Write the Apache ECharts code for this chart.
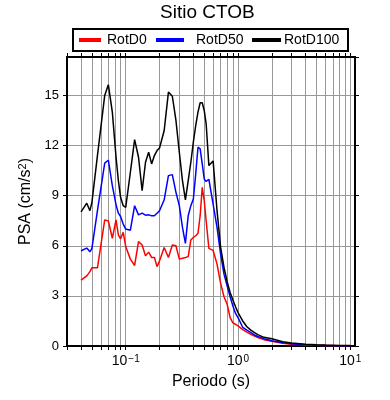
<!DOCTYPE html>
<html>
<head>
<meta charset="utf-8">
<script src="https://cdn.jsdelivr.net/npm/echarts@6/dist/echarts.min.js"></script>
<style>
html, body { margin: 0; padding: 0; background: #fff; }
#chart { width: 390px; height: 400px; }
</style>
</head>
<body>
<div id="chart"></div>
<script>
// periodos (s) y PSA (cm/s2)
var periodo = [0.04, 0.045, 0.048, 0.05, 0.056, 0.065, 0.07, 0.076, 0.082, 0.086,
    0.09, 0.095, 0.1, 0.11, 0.12, 0.13, 0.14, 0.15, 0.16, 0.17,
    0.18, 0.19, 0.2, 0.22, 0.24, 0.26, 0.28, 0.3, 0.32, 0.34,
    0.36, 0.38, 0.4, 0.42, 0.44, 0.46, 0.48, 0.5, 0.52, 0.55,
    0.6, 0.65, 0.7, 0.75, 0.8, 0.85, 0.9, 0.95, 1.0, 1.1,
    1.2, 1.3, 1.4, 1.5, 1.7, 2.0, 2.5, 3.0, 4.0, 5.0,
    6.0, 8.0, 10.0];
var rotD0 = [3.94, 4.2, 4.45, 4.68, 4.68, 7.55, 7.48, 6.45, 7.55, 6.65,
    6.42, 6.8, 5.95, 5.2, 4.82, 6.25, 6.05, 5.4, 5.62, 5.3,
    5.3, 4.75, 5.1, 5.9, 5.3, 6.05, 6.0, 5.2, 5.25, 5.3,
    5.35, 6.35, 6.5, 6.6, 6.75, 7.8, 9.5, 8.7, 7.5, 5.84,
    5.72, 4.9, 3.75, 2.95, 2.5, 1.7, 1.38, 1.3, 1.2, 0.98,
    0.83, 0.7, 0.6, 0.5, 0.38, 0.28, 0.16, 0.1, 0.06, 0.04,
    0.03, 0.018, 0.012];
var rotD50 = [5.7, 5.86, 5.64, 5.84, 8.1, 10.95, 11.12, 9.6, 8.45, 7.95,
    7.75, 7.3, 7.0, 6.93, 8.4, 7.85, 7.95, 7.83, 7.85, 7.8,
    7.8, 7.95, 8.1, 8.75, 10.2, 10.26, 9.2, 8.4, 7.1, 6.14,
    7.8, 8.4, 8.8, 10.3, 11.9, 11.8, 10.9, 10.0, 9.85, 9.98,
    8.5, 7.1, 5.5, 4.3, 3.6, 2.95, 2.4, 1.95, 1.7, 1.12,
    0.95, 0.8, 0.66, 0.57, 0.44, 0.32, 0.2, 0.13, 0.08, 0.05,
    0.035, 0.022, 0.015];
var rotD100 = [8.03, 8.55, 8.1, 8.6, 11.4, 15.0, 15.64, 14.0, 11.3, 9.9,
    8.9, 8.4, 8.3, 10.4, 12.35, 11.3, 9.3, 11.0, 11.6, 10.9,
    11.4, 11.7, 11.85, 12.9, 15.2, 14.95, 13.5, 11.6, 9.9, 8.75,
    9.9, 11.0, 12.2, 13.2, 14.0, 14.56, 14.56, 14.1, 13.3, 10.8,
    11.08, 8.1, 5.9, 4.7, 3.85, 3.2, 2.75, 2.35, 2.0, 1.5,
    1.15, 0.95, 0.8, 0.68, 0.52, 0.43, 0.26, 0.18, 0.1, 0.07,
    0.055, 0.035, 0.025];
var etiquetasX = [0.1, 1, 10];
var exponenteX = { '0.1': '\u22121', '1': '0', '10': '1' };

// lineas de la grilla log: 1..9 x 10^n
var grillaX = [];
for (var e = -2; e <= 1; e++) {
    for (var k = 1; k <= 9; k++) {
        var v = +(k * Math.pow(10, e)).toPrecision(3);
        if (v >= 0.03 && v <= 11) grillaX.push(v);
    }
}

function pares(vals) {
    return periodo.map(function (t, i) { return [t, vals[i]]; });
}

var fuente = 'Liberation Sans';
var myChart = echarts.init(document.getElementById('chart'));

var ejeX = {
    type: 'log',
    logBase: 10,
    min: 0.03,
    max: 11,
    axisLine: { show: true, onZero: false, lineStyle: { color: '#000', width: 2 } },
    axisTick: { show: true, inside: false, length: 4, customValues: grillaX, lineStyle: { color: '#000', width: 1 } },
    splitLine: { show: true, lineStyle: { color: '#999', width: 1 } },
    axisLabel: {
        show: true,
        customValues: etiquetasX,
        margin: 8,
        color: '#000',
        formatter: function (v) {
            var ex = exponenteX[String(+v.toPrecision(3))];
            return ex === undefined ? '' : '{b|10}{s|' + ex + '}';
        },
        rich: {
            b: { fontFamily: fuente, fontSize: 14, lineHeight: 14, verticalAlign: 'bottom', color: '#000' },
            s: { fontFamily: fuente, fontSize: 10, lineHeight: 10, verticalAlign: 'top', color: '#000', padding: [0, 0, 0, 1] }
        }
    }
};

var option = {
    animation: false,
    backgroundColor: '#fff',
    title: {
        text: 'Sitio CTOB',
        left: 160,
        top: 3,
        padding: 0,
        textStyle: { fontFamily: fuente, fontSize: 19, fontWeight: 'normal', color: '#000' }
    },
    graphic: [{
        type: 'rect',
        shape: { x: 73, y: 29, width: 275, height: 22 },
        style: { fill: '#fff', stroke: '#000', lineWidth: 2 },
        z: 0
    }],
    legend: [
        { data: ['RotD0'], left: 79, top: 33, padding: 0, icon: 'rect', itemWidth: 22, itemHeight: 4, itemGap: 0,
          textStyle: { fontFamily: fuente, fontSize: 14, color: '#000', padding: [0, 0, 0, 1] } },
        { data: ['RotD50'], left: 156, top: 33, padding: 0, icon: 'rect', itemWidth: 28, itemHeight: 4,
          textStyle: { fontFamily: fuente, fontSize: 14, color: '#000', padding: [0, 0, 0, 7] } },
        { data: ['RotD100'], left: 252, top: 33, padding: 0, icon: 'rect', itemWidth: 29, itemHeight: 4,
          textStyle: { fontFamily: fuente, fontSize: 14, color: '#000', padding: [0, 0, 0, -2] } }
    ],
    grid: { left: 67, right: 35, top: 57, bottom: 54 },
    xAxis: [
        Object.assign({}, ejeX, {
            position: 'bottom',
            name: 'Periodo (s)',
            nameLocation: 'middle',
            nameGap: 28,
            nameTextStyle: { fontFamily: fuente, fontSize: 16, color: '#000' }
        }),
        Object.assign({}, ejeX, {
            position: 'top',
            splitLine: { show: false },
            axisLabel: { show: false }
        })
    ],
    yAxis: [{
        type: 'value',
        min: 0,
        max: 17.3,
        interval: 3,
        position: 'left',
        name: '{a|PSA (cm/s}{s|2}{a|)}',
        nameLocation: 'middle',
        nameGap: 32,
        nameTextStyle: {
            rich: {
                a: { fontFamily: fuente, fontSize: 16, lineHeight: 16, verticalAlign: 'bottom', color: '#000' },
                s: { fontFamily: fuente, fontSize: 11, lineHeight: 11, verticalAlign: 'top', color: '#000' }
            }
        },
        axisLine: { show: true, lineStyle: { color: '#000', width: 2 } },
        axisTick: { show: true, length: 4, lineStyle: { color: '#000' } },
        splitLine: { show: true, lineStyle: { color: '#999', width: 1 } },
        axisLabel: { showMaxLabel: false, margin: 8, fontFamily: fuente, fontSize: 13, color: '#000' }
    }, {
        type: 'value',
        min: 0,
        max: 17.3,
        interval: 3,
        position: 'right',
        axisLine: { show: true, lineStyle: { color: '#000', width: 2 } },
        axisTick: { show: true, length: 4, lineStyle: { color: '#000' } },
        splitLine: { show: false },
        axisLabel: { show: false }
    }],
    series: [
        { name: 'RotD0', type: 'line', color: '#ff0000', showSymbol: false, lineStyle: { width: 1.5 }, data: pares(rotD0) },
        { name: 'RotD50', type: 'line', color: '#0000ff', showSymbol: false, lineStyle: { width: 1.5 }, data: pares(rotD50) },
        { name: 'RotD100', type: 'line', color: '#000000', showSymbol: false, lineStyle: { width: 1.5 }, data: pares(rotD100) }
    ]
};

myChart.setOption(option);
</script>
</body>
</html>
